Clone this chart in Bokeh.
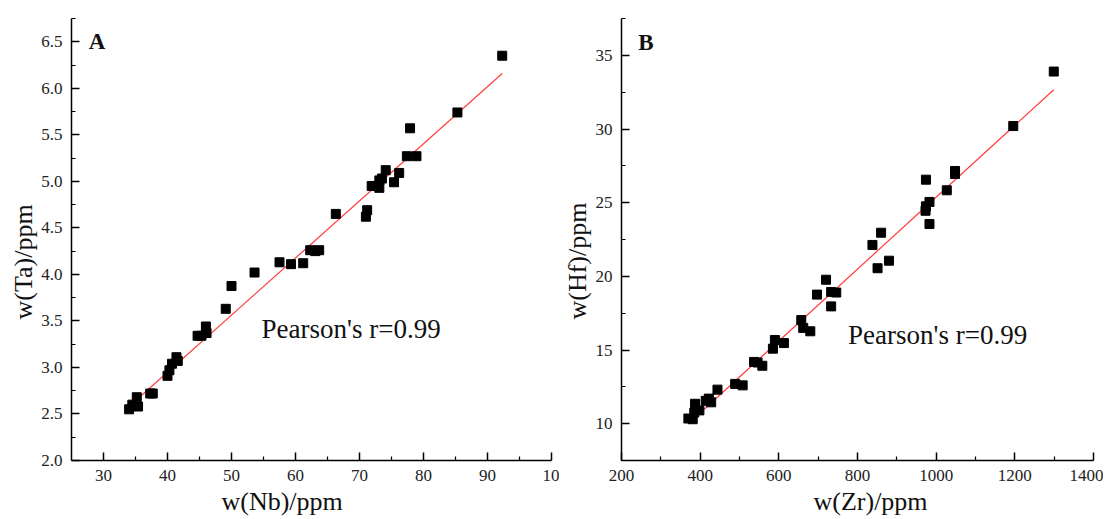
import numpy as np
from bokeh.plotting import figure
from bokeh.layouts import row
from bokeh.models import FixedTicker, Label, PrintfTickFormatter, Range1d, Title
from bokeh.embed import file_html
from bokeh.resources import INLINE

# ---------------- data ----------------
nb = [34.0, 34.5, 35.2, 35.4, 37.3, 37.7, 40.0, 40.3, 40.7, 41.4, 41.6,
      44.7, 45.3, 46.0, 46.1, 49.1, 50.0, 53.6, 57.5, 59.3, 61.2, 62.3,
      63.1, 63.7, 66.3, 71.0, 71.2, 71.9, 72.3, 73.1, 73.1, 73.5, 74.1,
      75.4, 76.2, 77.4, 77.9, 78.9, 85.3, 92.3]
ta = [2.55, 2.60, 2.68, 2.58, 2.72, 2.72, 2.91, 2.97, 3.04, 3.11, 3.07,
      3.34, 3.34, 3.44, 3.37, 3.63, 3.875, 4.02, 4.13, 4.11, 4.12, 4.26,
      4.25, 4.26, 4.65, 4.62, 4.69, 4.95, 4.95, 4.93, 5.01, 5.03, 5.12,
      4.99, 5.09, 5.27, 5.57, 5.27, 5.74, 6.35]

zr = [370, 381, 385, 387, 398, 414, 422, 428, 444, 489, 508, 537, 546,
      558, 585, 590, 613, 657, 662, 680, 697, 720, 733, 733, 746, 838,
      860, 851, 880, 974, 973, 974, 983, 983, 1027, 1048, 1048, 1196, 1299]
hf = [10.35, 10.3, 10.75, 11.35, 10.9, 11.55, 11.7, 11.45, 12.31, 12.7,
      12.6, 14.19, 14.15, 13.93, 15.09, 15.68, 15.47, 17.03, 16.5, 16.27,
      18.76, 19.77, 17.96, 18.94, 18.9, 22.13, 22.96, 20.55, 21.06, 26.56,
      24.45, 24.75, 25.05, 23.55, 25.84, 27.15, 26.95, 30.2, 33.9]

fit_A = {"slope": 0.0614, "intercept": 0.492}
fit_B = {"slope": 0.0244, "intercept": 0.97}

a_xticks = [30, 40, 50, 60, 70, 80, 90, 100]
a_xlabels = {100: "10"}
a_yticks = [2.0, 2.5, 3.0, 3.5, 4.0, 4.5, 5.0, 5.5, 6.0, 6.5]
b_xticks = [200, 400, 600, 800, 1000, 1200, 1400]
b_yticks = [10, 15, 20, 25, 30, 35]

FONT = "Liberation Serif"


def base_fig(width, height, xr, yr, mb_left, mb_right, mb_top, mb_bottom):
    p = figure(width=width, height=height, x_range=Range1d(*xr), y_range=Range1d(*yr),
               output_backend="svg", toolbar_location=None,
               min_border_left=mb_left, min_border_right=mb_right,
               min_border_top=mb_top, min_border_bottom=mb_bottom)
    p.xgrid.visible = False
    p.ygrid.visible = False
    p.outline_line_color = None
    p.background_fill_color = "white"
    p.border_fill_color = "white"
    for ax in (p.xaxis[0], p.yaxis[0]):
        ax.axis_line_color = "black"
        ax.axis_line_width = 1.5
        ax.major_tick_in = 8
        ax.major_tick_out = 0
        ax.minor_tick_in = 4
        ax.minor_tick_out = 0
        ax.major_tick_line_width = 1.5
        ax.minor_tick_line_width = 1.2
        ax.major_label_text_font = FONT
        ax.major_label_text_font_size = "17px"
        ax.major_label_text_color = "#222222"
        ax.major_label_standoff = 9
    return p


def add_text(p, x, y, text, size, bold=False):
    p.add_layout(Label(x=x, y=y, text=text, text_font=FONT, text_font_size=size,
                       text_align="left", text_baseline="alphabetic",
                       text_font_style="bold" if bold else "normal", text_color="#111111"))


def add_title(p, text, place, offset):
    p.add_layout(Title(text=text, align="left", offset=offset, standoff=2,
                       text_font=FONT, text_font_size="26px", text_font_style="normal",
                       text_color="#111111"), place)


# ---------------- panel A ----------------
pA = base_fig(559, 519, (25, 100), (2.0, 6.75), 71, 8, 12, 59)
pA.xaxis.ticker = FixedTicker(ticks=a_xticks, minor_ticks=[35, 45, 55, 65, 75, 85, 95])
pA.xaxis.major_label_overrides = a_xlabels
pA.yaxis.ticker = FixedTicker(ticks=a_yticks,
                              minor_ticks=[2.25, 2.75, 3.25, 3.75, 4.25, 4.75, 5.25, 5.75, 6.25, 6.75])
pA.yaxis.formatter = PrintfTickFormatter(format="%.1f")

xa = np.array([min(nb), max(nb)])
pA.line(xa, fit_A["slope"] * xa + fit_A["intercept"], line_color="#ff3b3b", line_width=1.2)
pA.scatter(nb, ta, marker="square", size=9, fill_color="black", line_color="black")

add_text(pA, 27.7, 6.5, "A", "23px", bold=True)
add_text(pA, 54.7, 3.415, "Pearson's r=0.99", "27px")
add_title(pA, "w(Nb)/ppm", "below", 150)
add_title(pA, "w(Ta)/ppm", "left", 141)

# ---------------- panel B ----------------
pB = base_fig(544, 519, (200, 1400), (7.5, 37.5), 52, 10, 18, 59)
pB.xaxis.ticker = FixedTicker(ticks=b_xticks, minor_ticks=[300, 500, 700, 900, 1100, 1300])
pB.yaxis.ticker = FixedTicker(ticks=b_yticks,
                              minor_ticks=[7.5, 12.5, 17.5, 22.5, 27.5, 32.5, 37.5])

xb = np.array([min(zr), max(zr)])
pB.line(xb, fit_B["slope"] * xb + fit_B["intercept"], line_color="#ff3b3b", line_width=1.2)
pB.scatter(zr, hf, marker="square", size=9, fill_color="black", line_color="black")

add_text(pB, 242.8, 35.84, "B", "23px", bold=True)
add_text(pB, 776, 16.0, "Pearson's r=0.99", "27px")
add_title(pB, "w(Zr)/ppm", "below", 192)
add_title(pB, "w(Hf)/ppm", "left", 141)

layout = row(pA, pB)
open("out.html", "w").write(file_html(layout, INLINE))
